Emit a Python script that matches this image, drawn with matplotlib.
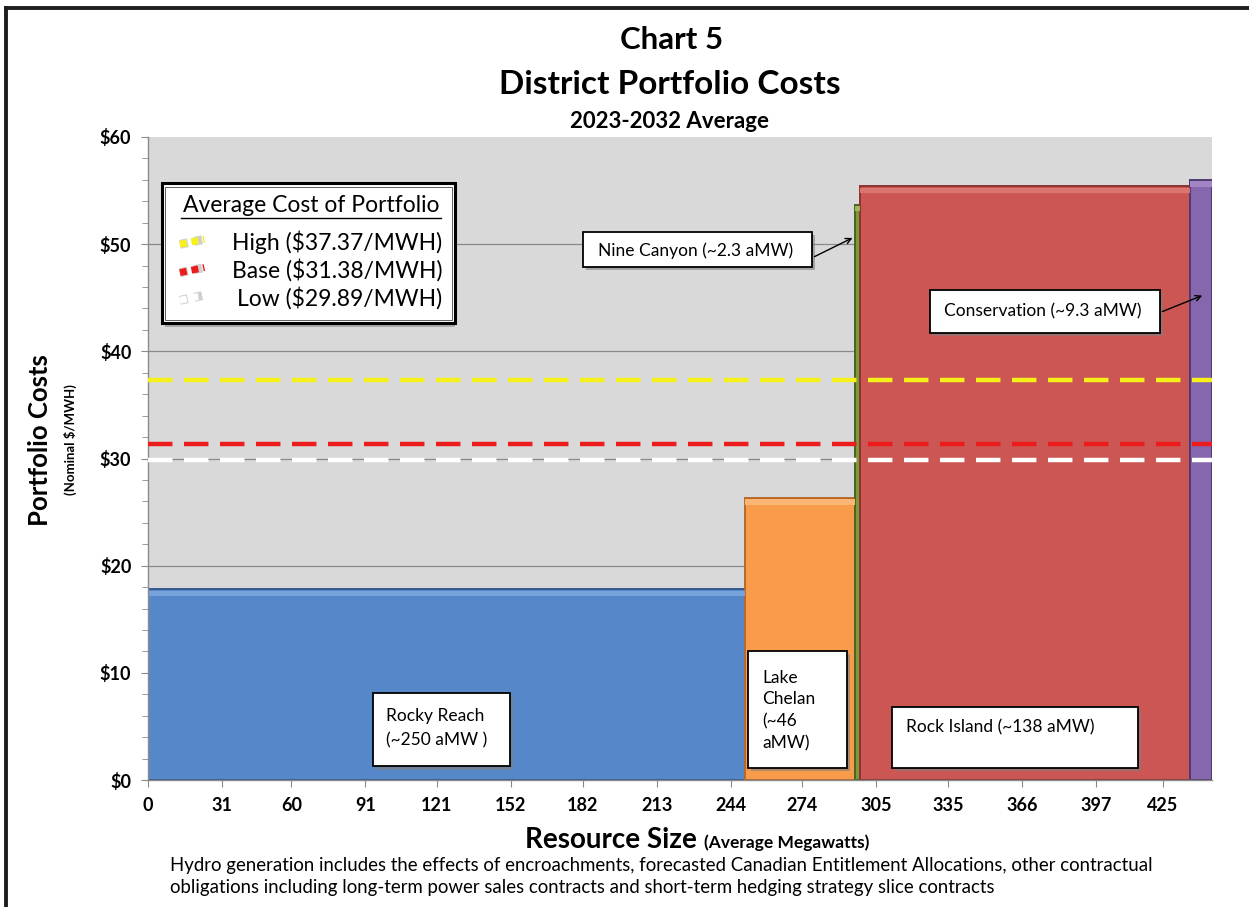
import matplotlib
matplotlib.use("Agg")
import matplotlib.pyplot as plt
from matplotlib.patches import Rectangle
from matplotlib.lines import Line2D
import numpy as np

plt.rcParams['font.family'] = ['Lato', 'DejaVu Sans']

# ---- data ----
resources = ["Rocky Reach", "Lake Chelan", "Nine Canyon", "Rock Island", "Conservation"]
widths_amw = [250, 46, 2.3, 138, 9.3]
costs = [17.8, 26.3, 53.7, 55.4, 56.0]
bar_colors = ["#5587c9", "#f89c4c", "#7a9a3c", "#cb5653", "#8666ad"]
edge_colors = ["#34598e", "#b8692a", "#4d6322", "#8c3431", "#4e3a6e"]
top_colors = ["#76a3da", "#fbb676", "#9ab85a", "#dc7470", "#a285c4"]

scenario_names = ["High", "Base", "Low"]
scenario_costs = [37.37, 31.38, 29.89]
scenario_colors = ["#f7f01a", "#ec1c1c", "#ffffff"]

x_ticks = [0, 31, 60, 91, 121, 152, 182, 213, 244, 274, 305, 335, 366, 397, 425]
y_ticks = [0, 10, 20, 30, 40, 50, 60]

total = sum(widths_amw)
lefts = np.concatenate([[0], np.cumsum(widths_amw)[:-1]])

fig = plt.figure(figsize=(12.49, 9.07), dpi=100)
fig.patch.set_facecolor("white")
ax = fig.add_axes([148/1249, 1-780/907, 1064/1249, 643/907])
ax.set_facecolor("#d9d9d9")

# gridlines
for y in y_ticks[1:-1]:
    ax.axhline(y, color="#8a8a8a", lw=0.9, zorder=1)

# bars
ax.bar(lefts, costs, width=widths_amw, align="edge", color=bar_colors,
       edgecolor=edge_colors, linewidth=1.4, zorder=2)
hl = 0.5
ax.bar(lefts, [hl]*len(costs), bottom=np.array(costs)-hl-0.12, width=widths_amw,
       align="edge", color=top_colors, linewidth=0, zorder=2.5)

# scenario dashed lines
for c, col in zip(scenario_costs, scenario_colors):
    ax.axhline(c, color=col, lw=3.2, dashes=(5.5, 2.6), zorder=3)

ax.set_xlim(0, total)
ax.set_ylim(0, 60)
ax.set_xticks(x_ticks)
ax.set_xticklabels([str(v) for v in x_ticks], fontsize=13, fontweight="bold")
ax.set_yticks(y_ticks)
ax.set_yticklabels(["${}".format(v) for v in y_ticks], fontsize=13, fontweight="bold")
ax.set_yticks(np.arange(0, 61, 2), minor=True)
ax.tick_params(axis="both", which="major", direction="out", length=5, color="#8a8a8a", pad=7)
ax.tick_params(axis="y", which="minor", direction="out", length=4, color="#8a8a8a")
ax.tick_params(axis="x", which="minor", length=0)
for s in ["top", "right"]:
    ax.spines[s].set_visible(False)
for s in ["left", "bottom"]:
    ax.spines[s].set_color("#8a8a8a")
    ax.spines[s].set_linewidth(1.0)

T = ax.transAxes

def box(x0, y0, x1, y1, lw=1.3, z=5):
    ax.add_patch(Rectangle((x0+0.003, y0-0.005), x1-x0, y1-y0, transform=T,
                           facecolor="#7f7f7f", edgecolor="none", zorder=z-0.1, alpha=0.6))
    ax.add_patch(Rectangle((x0, y0), x1-x0, y1-y0, transform=T,
                           facecolor="white", edgecolor="black", lw=lw, zorder=z))

fs = 12.5
# Rocky Reach
box(0.2115, 0.021, 0.340, 0.136)
ax.text(0.2237, 0.0805, "Rocky Reach\n(~250 aMW )", transform=T, fontsize=fs,
        va="center", ha="left", linespacing=1.6, zorder=6)
# Lake Chelan
box(0.564, 0.019, 0.657, 0.201)
ax.text(0.577, 0.108, "Lake\nChelan\n(~46\naMW)", transform=T, fontsize=fs,
        va="center", ha="left", linespacing=1.45, zorder=6)
# Rock Island
box(0.699, 0.019, 0.930, 0.1135)
ax.text(0.712, 0.0824, "Rock Island (~138 aMW)", transform=T, fontsize=fs,
        va="center", ha="left", zorder=6)
# Nine Canyon
box(0.409, 0.798, 0.624, 0.852)
ax.text(0.423, 0.8235, "Nine Canyon (~2.3 aMW)", transform=T, fontsize=fs,
        va="center", ha="left", zorder=6)
ax.annotate("", xy=(lefts[2]+0.1, 50.7), xycoords="data",
            xytext=(0.624, 0.812), textcoords="axes fraction",
            arrowprops=dict(arrowstyle="->", color="black", lw=1.0), zorder=6)
# Conservation
box(0.735, 0.695, 0.951, 0.762)
ax.text(0.748, 0.7285, "Conservation (~9.3 aMW)", transform=T, fontsize=fs,
        va="center", ha="left", zorder=6)
ax.annotate("", xy=(lefts[4]+6.3, 45.3), xycoords="data",
            xytext=(0.951, 0.727), textcoords="axes fraction",
            arrowprops=dict(arrowstyle="->", color="black", lw=1.0), zorder=6)

# legend box
ax.add_patch(Rectangle((0.016, 0.705), 0.2725, 0.217, transform=T,
                       facecolor="#8c8c8c", edgecolor="none", zorder=4.9, alpha=0.6))
ax.add_patch(Rectangle((0.013, 0.711), 0.2755, 0.217, transform=T,
                       facecolor="white", edgecolor="black", lw=2.2, zorder=5))
ax.add_patch(Rectangle((0.016, 0.716), 0.2695, 0.207, transform=T,
                       facecolor="none", edgecolor="#444444", lw=0.6, zorder=5))
ax.text(0.1535, 0.893, "Average Cost of Portfolio", transform=T, fontsize=16.5,
        ha="center", va="center", zorder=6)
ax.add_line(Line2D([0.031, 0.2755], [0.8735, 0.8735], transform=T, color="black",
                   lw=1.0, zorder=6))
ys = [0.837, 0.793, 0.750]
for name, c, col, yy in zip(scenario_names, scenario_costs, scenario_colors, ys):
    ax.add_line(Line2D([0.030, 0.053], [yy-0.004, yy+0.004], transform=T,
                       color="#a0a0a0", lw=6.4, dashes=(0.9, 0.75), zorder=5.9, alpha=0.5))
    ax.add_line(Line2D([0.030, 0.053], [yy-0.004, yy+0.004], transform=T, color=col,
                       lw=5, dashes=(1.0, 0.7), zorder=6))
    ax.text(0.2765, yy, "{} (${:.2f}/MWH)".format(name, c), transform=T,
            fontsize=16.5, ha="right", va="center", zorder=6)

# titles
fig.text(672/1249, 1-40/907, "Chart 5", fontsize=22.5, fontweight="bold",
         ha="center", va="center")
fig.text(670/1249, 1-84/907, "District Portfolio Costs", fontsize=24, fontweight="bold",
         ha="center", va="center")
fig.text(669/1249, 1-121/907, "2023-2032 Average", fontsize=16, fontweight="bold",
         ha="center", va="center")

# axis labels
fig.text(40/1249, 1-440/907, "Portfolio Costs", fontsize=18.5, fontweight="bold",
         rotation=90, ha="center", va="center")
fig.text(70/1249, 1-440/907, "(Nominal $/MWH)", fontsize=9.5, fontweight="bold",
         rotation=90, ha="center", va="center")
xl = fig.text(525/1249, 1-848/907, "Resource Size ", fontsize=20, fontweight="bold",
              ha="left", va="baseline")
ax.annotate("(Average Megawatts)", xy=(1, 0.06), xycoords=xl, fontsize=12.5,
            fontweight="bold", ha="left", va="bottom")

fig.text(170/1249, 1-866/907,
         "Hydro generation includes the effects of encroachments, forecasted Canadian Entitlement Allocations, other contractual",
         fontsize=13.4, ha="left", va="center")
fig.text(170/1249, 1-888/907,
         "obligations including long-term power sales contracts and short-term hedging strategy slice contracts",
         fontsize=13.4, ha="left", va="center")

# figure frame (top and left edges)
fig.add_artist(Line2D([6/1249, 1], [1-8/907, 1-8/907], transform=fig.transFigure,
                      color="#1e1e1e", lw=2.8))
fig.add_artist(Line2D([6/1249, 6/1249], [0, 1-8/907], transform=fig.transFigure,
                      color="#1e1e1e", lw=2.8))

fig.savefig("out.png", dpi=100)
